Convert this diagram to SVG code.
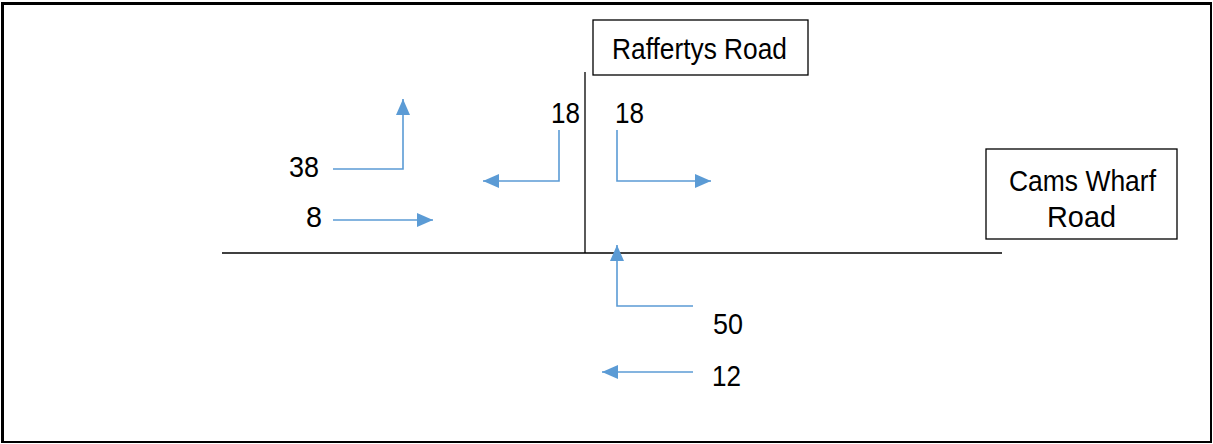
<svg xmlns="http://www.w3.org/2000/svg" width="1213" height="444" viewBox="0 0 1213 444">
<style>
.t{font-family:"Liberation Sans",Arial,sans-serif;font-size:30px;fill:#000}
.box{fill:#fff;stroke:#000;stroke-width:1.3}
.road{stroke:#000;stroke-width:1.3;fill:none}
.arr{stroke:#5B9BD5;stroke-width:1.6;fill:none;marker-end:url(#ah)}
</style>
<defs>
<marker id="ah" markerUnits="userSpaceOnUse" markerWidth="18" markerHeight="14" refX="16" refY="7" orient="auto">
<path d="M0,0 L16,7 L0,14 Z" fill="#5B9BD5"/>
</marker>
</defs>
<rect x="0" y="0" width="1213" height="444" fill="#fff"/>
<g id="frame">
<rect x="3" y="4" width="1208" height="438" fill="none" stroke="#000" stroke-width="2"/>
<line x1="1" y1="3.5" x2="1212" y2="3.5" stroke="#000" stroke-width="3"/>
<line x1="2.5" y1="2" x2="2.5" y2="443" stroke="#000" stroke-width="3"/>
</g>
<g id="roads">
<line class="road" x1="222" y1="253" x2="1002" y2="253"/>
<line class="road" x1="585" y1="72" x2="585" y2="253"/>
</g>
<g id="raffertys-road">
<rect class="box" x="593" y="20" width="215" height="55"/>
<text class="t" x="612" y="59" textLength="175" lengthAdjust="spacingAndGlyphs">Raffertys Road</text>
</g>
<g id="cams-wharf-road">
<rect class="box" x="986" y="149" width="191" height="90"/>
<text class="t" x="1009" y="191" textLength="147" lengthAdjust="spacingAndGlyphs">Cams Wharf</text>
<text class="t" x="1047" y="227" textLength="69" lengthAdjust="spacingAndGlyphs">Road</text>
</g>
<g id="labels">
<text class="t" x="289" y="177" textLength="30" lengthAdjust="spacingAndGlyphs">38</text>
<text class="t" x="306" y="227" textLength="16" lengthAdjust="spacingAndGlyphs">8</text>
<text class="t" x="551" y="123" textLength="29" lengthAdjust="spacingAndGlyphs">18</text>
<text class="t" x="615" y="123" textLength="29" lengthAdjust="spacingAndGlyphs">18</text>
<text class="t" x="713" y="334" textLength="30" lengthAdjust="spacingAndGlyphs">50</text>
<text class="t" x="712" y="386" textLength="29" lengthAdjust="spacingAndGlyphs">12</text>
</g>
<g id="connectors">
<polyline class="arr" points="333,169 403,169 403,99"/>
<polyline class="arr" points="333,220 433,220"/>
<polyline class="arr" points="559,130 559,181 483,181"/>
<polyline class="arr" points="617,130 617,181 711,181"/>
<polyline class="arr" points="693,306 617,306 617,245"/>
<polyline class="arr" points="693,372 602,372"/>
</g>
</svg>
